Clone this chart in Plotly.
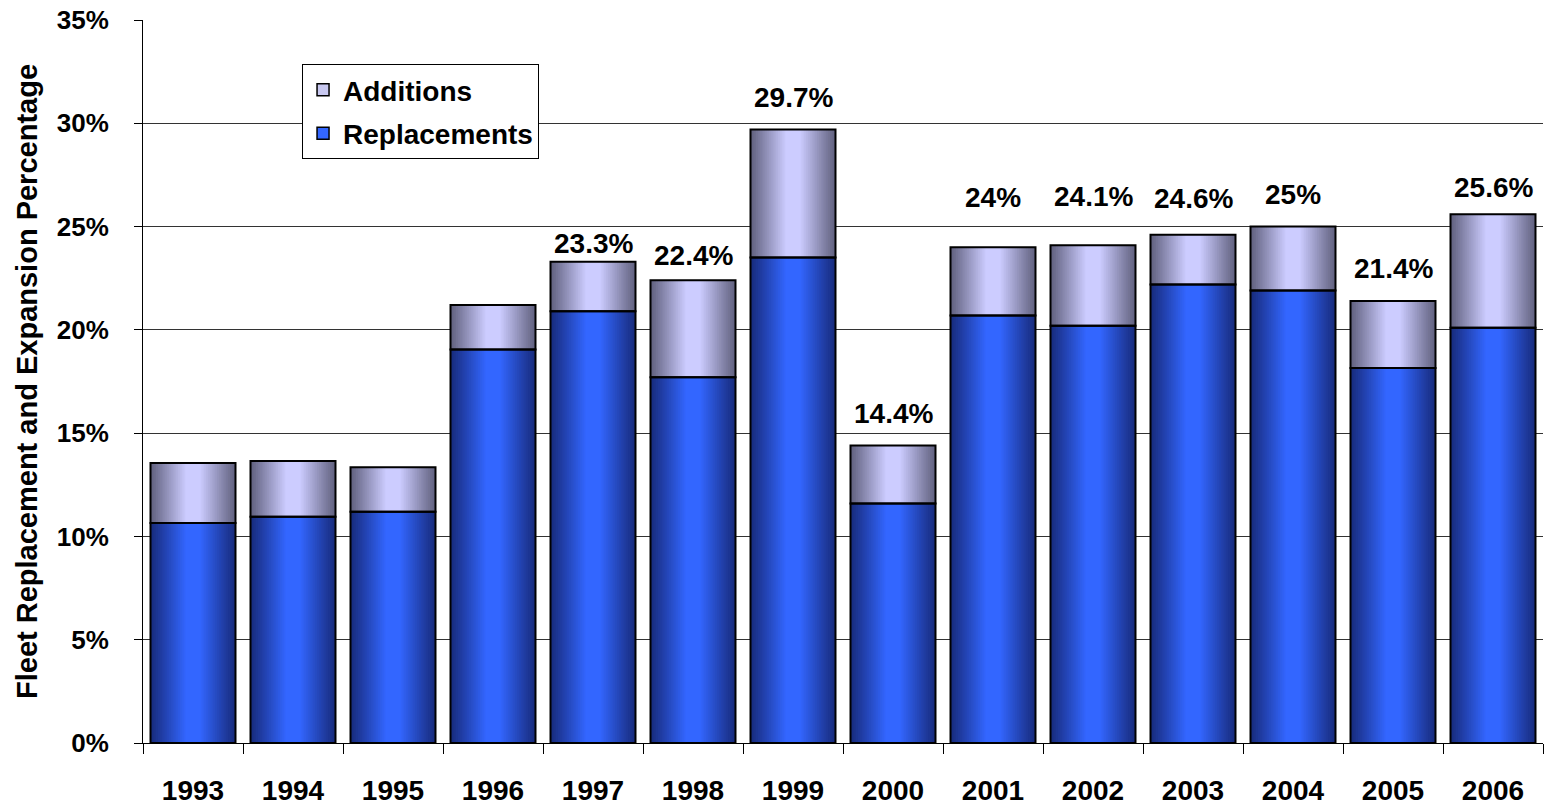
import plotly.graph_objects as go

years = ["1993", "1994", "1995", "1996", "1997", "1998", "1999",
         "2000", "2001", "2002", "2003", "2004", "2005", "2006"]
replacements = [10.65, 10.95, 11.2, 19.05, 20.9, 17.7, 23.5,
                11.6, 20.7, 20.2, 22.2, 21.9, 18.15, 20.1]
additions = [2.9, 2.7, 2.15, 2.15, 2.4, 4.7, 6.2,
             2.8, 3.3, 3.9, 2.4, 3.1, 3.25, 5.5]
totals = [13.55, 13.65, 13.35, 21.2, 23.3, 22.4, 29.7,
          14.4, 24.0, 24.1, 24.6, 25.0, 21.4, 25.6]
labels = ["", "", "", "", "23.3%", "22.4%", "29.7%",
          "14.4%", "24%", "24.1%", "24.6%", "25%", "21.4%", "25.6%"]
y_ticks = [0, 5, 10, 15, 20, 25, 30, 35]
y_tick_text = ["0%", "5%", "10%", "15%", "20%", "25%", "30%", "35%"]

# styling
label_yshift = [0, 0, 0, 0, 18, 25, 32, 32, 50, 49, 36, 32, 32, 27]
FONT = "Liberation Sans, Arial, sans-serif"
BAR_W = 0.85
N_LAYERS = 20


def mix(c1, c2, t):
    return "rgb(%d,%d,%d)" % tuple(round(a + (b - a) * t) for a, b in zip(c1, c2))


rep_edge, rep_center = (24, 44, 125), (51, 102, 255)
add_edge, add_center = (98, 98, 128), (204, 204, 255)

fig = go.Figure()

# gradient fills built from nested overlaid bars
for k in range(N_LAYERS):
    t = k / (N_LAYERS - 1)
    w = BAR_W * (1 - 0.82 * t)
    fig.add_trace(go.Bar(x=years, y=replacements, width=w,
                         marker=dict(color=mix(rep_edge, rep_center, t), line=dict(width=0)),
                         showlegend=False, hoverinfo="skip"))
    fig.add_trace(go.Bar(x=years, y=additions, base=replacements, width=w,
                         marker=dict(color=mix(add_edge, add_center, t), line=dict(width=0)),
                         showlegend=False, hoverinfo="skip"))

# outlines
fig.add_trace(go.Bar(x=years, y=replacements, width=BAR_W, name="Replacements",
                     marker=dict(color="rgba(0,0,0,0)", line=dict(color="black", width=2)),
                     showlegend=False))
fig.add_trace(go.Bar(x=years, y=additions, base=replacements, width=BAR_W, name="Additions",
                     marker=dict(color="rgba(0,0,0,0)", line=dict(color="black", width=2)),
                     showlegend=False))

# legend entries (zero-height bars)
fig.add_trace(go.Bar(x=[years[0]], y=[0], width=BAR_W, name="Additions", legendgroup="a",
                     hoverinfo="skip",
                     marker=dict(color="rgb(200,200,240)", line=dict(color="black", width=1.5))))
fig.add_trace(go.Bar(x=[years[0]], y=[0], width=BAR_W, name="Replacements", legendgroup="r",
                     hoverinfo="skip",
                     marker=dict(color="rgb(51,102,255)", line=dict(color="black", width=1.5))))

for i, (tot, lab, sh) in enumerate(zip(totals, labels, label_yshift)):
    if lab:
        fig.add_annotation(x=i, y=tot, xref="x", yref="y", text=lab, showarrow=False,
                           yanchor="middle", yshift=sh,
                           font=dict(family=FONT, size=28, color="black", weight="bold"))

fig.update_layout(
    width=1544, height=806,
    margin=dict(l=143, r=1, t=20, b=63),
    barmode="overlay",
    plot_bgcolor="white", paper_bgcolor="white",
    font=dict(family=FONT, color="black", weight="bold"),
    legend=dict(x=0.1136, y=0.939, xanchor="left", yanchor="top",
                bordercolor="black", borderwidth=1, bgcolor="white",
                font=dict(family=FONT, size=28, color="black", weight="bold"),
                traceorder="grouped", tracegroupgap=4),
    xaxis=dict(type="category", categoryorder="array", categoryarray=years,
               range=[-0.5, len(years) - 0.5], automargin=False,
               tickson="boundaries", ticks="outside", ticklen=10,
               tickcolor="black", showline=True, linecolor="black", linewidth=1,
               ticklabelstandoff=22,
               tickfont=dict(family=FONT, size=28, color="black", weight="bold")),
    yaxis=dict(range=[0, 35], tickmode="array", tickvals=y_ticks, ticktext=y_tick_text,
               automargin=False,
               ticks="outside", ticklen=8,
               tickcolor="black", showline=True, linecolor="black", linewidth=1,
               showgrid=True, gridcolor="#333333", gridwidth=1, zeroline=False,
               ticklabelstandoff=20,
               tickfont=dict(family=FONT, size=26, color="black", weight="bold"),
               title=dict(text="Fleet Replacement and Expansion Percentage", standoff=10,
                          font=dict(family=FONT, size=29, color="black", weight="bold"))),
)

fig.write_html("out.html", config={"displayModeBar": False},
               post_script="document.body.style.margin='0';document.body.style.overflow='hidden';")
